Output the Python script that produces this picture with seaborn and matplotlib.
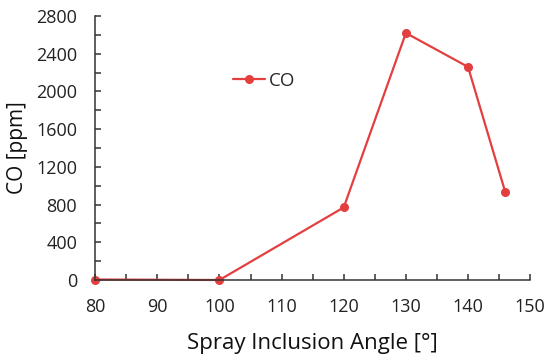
import matplotlib
matplotlib.use("Agg")
import matplotlib.pyplot as plt
import seaborn as sns
import pandas as pd
from matplotlib.ticker import MultipleLocator

angles = [80, 100, 120, 130, 140, 146]
co_ppm = [5, 0, 770, 2620, 2260, 930]
x_ticks = [80, 90, 100, 110, 120, 130, 140, 150]
y_ticks = [0, 400, 800, 1200, 1600, 2000, 2400, 2800]

sns.set_style("white")
plt.rcParams['font.family'] = ['Open Sans', 'DejaVu Sans']

df = pd.DataFrame({"angle": angles, "CO": co_ppm})
fig = plt.figure(figsize=(5.5, 3.56), dpi=100)
ax = fig.add_axes([0.173, 0.2135, 0.791, 0.7415])
color = "#E33F3F"
sns.lineplot(data=df, x="angle", y="CO", ax=ax, color=color, marker="o",
             markersize=6.5, markeredgewidth=0, linewidth=1.6, label="CO",
             clip_on=False)

ax.set_xlim(80, 150)
ax.set_ylim(0, 2800)
ax.set_xticks(x_ticks)
ax.set_yticks(y_ticks)
ax.xaxis.set_minor_locator(MultipleLocator(5))
ax.yaxis.set_minor_locator(MultipleLocator(200))
ax.tick_params(which="both", direction="in", length=4, width=1.1, color="#333333",
               bottom=True, left=True, top=False, right=False)
ax.tick_params(which="major", labelsize=13, labelcolor="#222222")
ax.tick_params(axis="x", which="major", pad=13)
ax.tick_params(axis="y", which="major", pad=13)
for s in ["top", "right"]:
    ax.spines[s].set_visible(False)
for s in ["left", "bottom"]:
    ax.spines[s].set_color("#333333")
    ax.spines[s].set_linewidth(1.1)
ax.set_xlabel("Spray Inclusion Angle [°]", fontsize=16, labelpad=12, color="#111111")
ax.set_ylabel("CO [ppm]", fontsize=15, labelpad=6, color="#111111")
ax.legend(loc="center left", bbox_to_anchor=(0.317, 0.755), frameon=False,
          fontsize=13.5, handlelength=1.7, handletextpad=0.2, borderpad=0,
          borderaxespad=0)
fig.savefig("out.png", dpi=100)
